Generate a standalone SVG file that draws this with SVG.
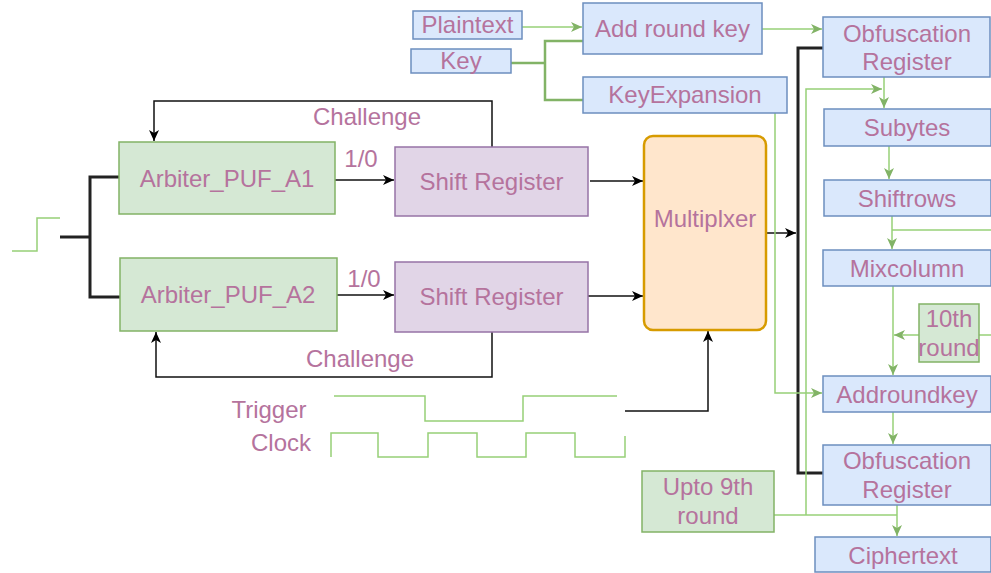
<svg xmlns="http://www.w3.org/2000/svg" width="991" height="573" viewBox="0 0 991 573">
  <defs>
    <style>
      .t { font-family: "Liberation Sans", Arial, sans-serif; font-size: 24px; fill: #b5739d; text-anchor: middle; }
      .blue { fill: #dae8fc; stroke: #6c8ebf; stroke-width: 1.5; }
      .green { fill: #d5e8d4; stroke: #82b366; stroke-width: 1.5; }
      .purple { fill: #e1d5e7; stroke: #9673a6; stroke-width: 1.5; }
      .mux { fill: #ffe6cc; stroke: #d79b00; stroke-width: 2.5; }
      .k { fill: none; stroke: #111; stroke-width: 1.5; }
      .kt { fill: none; stroke: #222; stroke-width: 3; }
      .g { fill: none; stroke: #97d077; stroke-width: 1.5; }
      .gt { fill: none; stroke: #82b366; stroke-width: 2.5; }
    </style>
    <marker id="ak" markerUnits="userSpaceOnUse" markerWidth="12" markerHeight="12" refX="11" refY="5" orient="auto">
      <path d="M0,0 L11,5 L0,10 L3,5 z" fill="#000"/>
    </marker>
    <marker id="ag" markerUnits="userSpaceOnUse" markerWidth="12" markerHeight="12" refX="11" refY="5" orient="auto">
      <path d="M0,0 L11,5 L0,10 L3,5 z" fill="#82b366"/>
    </marker>
  </defs>
  <rect width="991" height="573" fill="#fff"/>

  <!-- connectors -->
  <g id="connectors">
    <!-- input step and fan-out -->
    <path class="g" d="M12,251 H37 V218 H60"/>
    <path class="kt" d="M60,237 H90"/>
    <path class="kt" d="M120,177 H90 V297 H120"/>
    <!-- PUFs to shift registers -->
    <path class="k" d="M335,180 H394" marker-end="url(#ak)"/>
    <path class="k" d="M337,295 H394" marker-end="url(#ak)"/>
    <!-- challenge feedback -->
    <path class="k" d="M492,147 V101 H154 V141" marker-end="url(#ak)"/>
    <path class="k" d="M492,332 V377 H156 V332" marker-end="url(#ak)"/>
    <!-- shift registers to multiplexer -->
    <path class="k" d="M590,181 H643" marker-end="url(#ak)"/>
    <path class="k" d="M588,296 H643" marker-end="url(#ak)"/>
    <!-- trigger to multiplexer -->
    <path class="k" d="M625,411 H708 V331" marker-end="url(#ak)"/>
    <!-- multiplexer to obfuscation registers -->
    <path class="k" d="M766,233 H796" marker-end="url(#ak)"/>
    <path class="kt" d="M823,48 H798 V473 H823"/>
    <!-- trigger and clock waveforms -->
    <path class="g" d="M334,396 H425 V421 H523 V396 H617"/>
    <path class="g" d="M331,457 V433 H378 V457 H428 V433 H477 V457 H526 V433 H575 V457 H625 V436"/>
    <!-- AES inputs -->
    <path class="g" d="M522,27 H582" marker-end="url(#ag)"/>
    <path class="gt" d="M511,63 H545 M583,41 H545 V100 H583"/>
    <path class="g" d="M762,29 H822" marker-end="url(#ag)"/>
    <!-- round pipeline -->
    <path class="g" d="M884,77 V108" marker-end="url(#ag)"/>
    <path class="g" d="M889,146 V179" marker-end="url(#ag)"/>
    <path class="g" d="M892,216 V249" marker-end="url(#ag)"/>
    <path class="g" d="M892,230 H991"/>
    <path class="g" d="M893,286 V375" marker-end="url(#ag)"/>
    <path class="g" d="M991,335 H979"/>
    <path class="g" d="M919,335 H894" marker-end="url(#ag)"/>
    <path class="g" d="M893,412 V444" marker-end="url(#ag)"/>
    <!-- key expansion to final addroundkey -->
    <path class="g" d="M775,113 V393 H822" marker-end="url(#ag)"/>
    <!-- round loop and output -->
    <path class="g" d="M774,515 H897"/>
    <path class="g" d="M806,515 V89 H882" marker-end="url(#ag)"/>
    <path class="g" d="M897,505 V536" marker-end="url(#ag)"/>
  </g>

  <!-- nodes -->
  <g id="plaintext"><rect class="blue" x="413" y="11" width="109" height="28"/><text class="t" x="467.5" y="33">Plaintext</text></g>
  <g id="key"><rect class="blue" x="411" y="49" width="100" height="24"/><text class="t" x="461" y="69">Key</text></g>
  <g id="add-round-key"><rect class="blue" x="583" y="3" width="179" height="51"/><text class="t" x="672.5" y="37">Add round key</text></g>
  <g id="key-expansion"><rect class="blue" x="583" y="77" width="204" height="36"/><text class="t" x="685" y="103">KeyExpansion</text></g>
  <g id="obf-reg-top"><rect class="blue" x="823" y="17" width="167" height="60"/><text class="t" x="907" y="42">Obfuscation</text><text class="t" x="907" y="70">Register</text></g>
  <g id="subytes"><rect class="blue" x="824" y="109" width="167" height="37"/><text class="t" x="907" y="136">Subytes</text></g>
  <g id="shiftrows"><rect class="blue" x="824" y="180" width="167" height="36"/><text class="t" x="907" y="207">Shiftrows</text></g>
  <g id="mixcolumn"><rect class="blue" x="823" y="250" width="168" height="36"/><text class="t" x="907" y="277">Mixcolumn</text></g>
  <g id="tenth-round"><rect class="green" x="919" y="304" width="60" height="58"/><text class="t" x="949" y="327">10th</text><text class="t" x="949" y="356">round</text></g>
  <g id="addroundkey"><rect class="blue" x="823" y="376" width="168" height="36"/><text class="t" x="907" y="403">Addroundkey</text></g>
  <g id="obf-reg-bottom"><rect class="blue" x="823" y="445" width="168" height="60"/><text class="t" x="907" y="469">Obfuscation</text><text class="t" x="907" y="498">Register</text></g>
  <g id="upto-9th-round"><rect class="green" x="642" y="471" width="132" height="61"/><text class="t" x="708" y="495">Upto 9th</text><text class="t" x="708" y="524">round</text></g>
  <g id="ciphertext"><rect class="blue" x="815" y="537" width="176" height="35"/><text class="t" x="903" y="564">Ciphertext</text></g>
  <g id="puf-a1"><rect class="green" x="119" y="142" width="216" height="72"/><text class="t" x="227" y="187">Arbiter_PUF_A1</text></g>
  <g id="puf-a2"><rect class="green" x="120" y="258" width="217" height="73"/><text class="t" x="228" y="303">Arbiter_PUF_A2</text></g>
  <g id="shift-reg-1"><rect class="purple" x="395" y="147" width="193" height="69"/><text class="t" x="491.5" y="190">Shift Register</text></g>
  <g id="shift-reg-2"><rect class="purple" x="395" y="262" width="193" height="70"/><text class="t" x="491.5" y="305">Shift Register</text></g>
  <g id="multiplexer"><rect class="mux" x="644" y="136" width="122" height="194" rx="9"/><text class="t" x="705" y="227">Multiplxer</text></g>

  <!-- labels -->
  <g id="labels">
    <text class="t" x="361" y="167">1/0</text>
    <text class="t" x="364" y="287">1/0</text>
    <text class="t" x="367" y="125">Challenge</text>
    <text class="t" x="360" y="367">Challenge</text>
    <text class="t" x="269" y="418">Trigger</text>
    <text class="t" x="281" y="451">Clock</text>
  </g>
</svg>
